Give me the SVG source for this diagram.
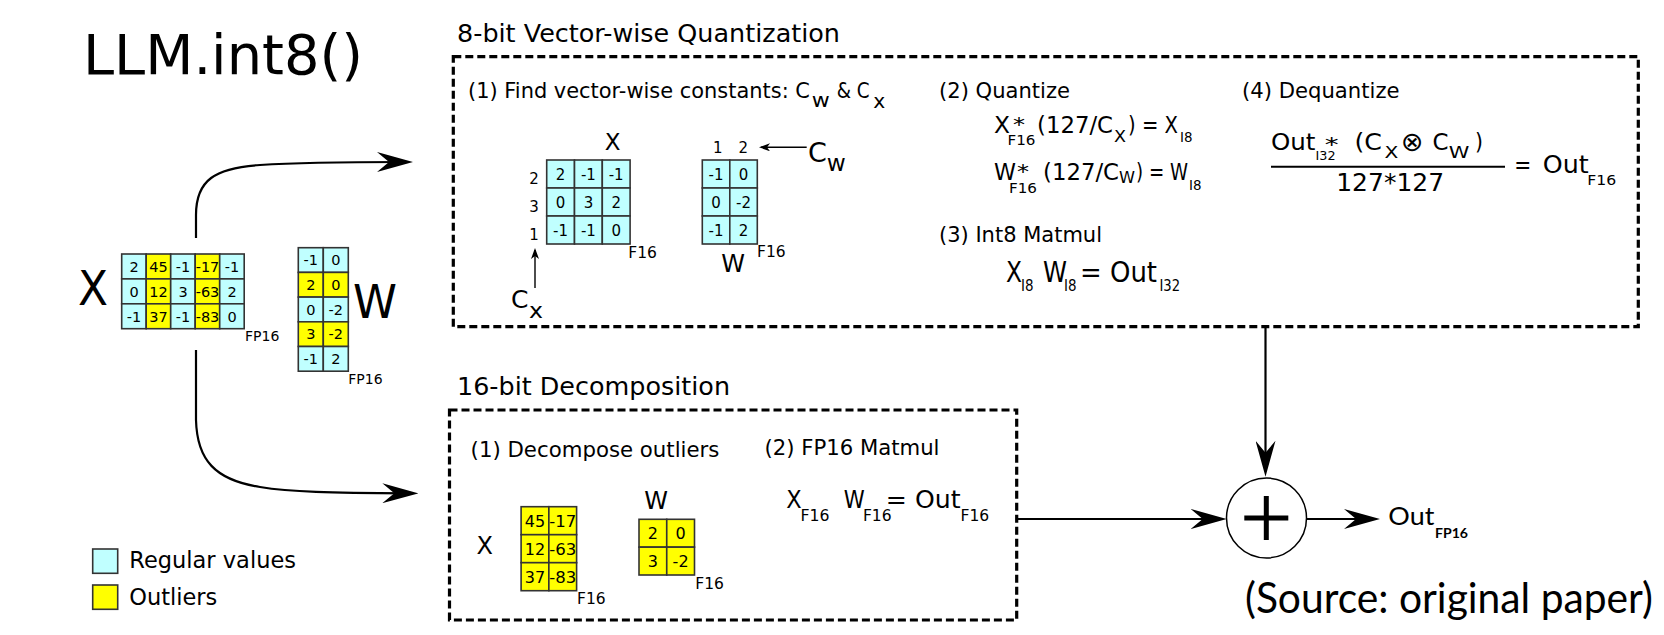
<svg xmlns="http://www.w3.org/2000/svg" width="1664" height="635" viewBox="0 0 1664 635">
<style>
text{font-family:"DejaVu Sans","Liberation Sans",sans-serif;fill:#000}
.c{fill:#c0ffff;stroke:#333;stroke-width:1.6}
.y{fill:#ffff00;stroke:#333;stroke-width:1.6}
.ct{font-size:14.5px;text-anchor:middle}
.st{font-size:15px;text-anchor:middle}
.bt{font-size:16px;text-anchor:middle}
.lab{font-size:14px}
.box{fill:none;stroke:#000;stroke-width:3.2;stroke-dasharray:8 4}
.ln{fill:none;stroke:#000;stroke-width:2.2}
.thin{fill:none;stroke:#000;stroke-width:1.4}
.cal{font-family:Lato,"Open Sans",sans-serif}
</style>
<defs>
<marker id="ah" viewBox="0 0 36 20" refX="26" refY="10" markerWidth="36" markerHeight="20" markerUnits="userSpaceOnUse" orient="auto"><path d="M36,10 L0,0 L12,10 L0,20 Z" fill="#000"/></marker>
<marker id="as" viewBox="0 0 11 8" refX="9" refY="4" markerWidth="11" markerHeight="8" markerUnits="userSpaceOnUse" orient="auto"><path d="M11,4 L0,0 L3,4 L0,8 Z" fill="#000"/></marker>
</defs>

<g id="title"><text x="83" y="74" font-size="56" textLength="280" lengthAdjust="spacingAndGlyphs">LLM.int8()</text></g>

<g id="input-x">
<text x="78" y="305" font-size="48" textLength="30" lengthAdjust="spacingAndGlyphs">X</text>
<rect class="c" x="121.7" y="254" width="24.5" height="24.9"/><rect class="y" x="146.2" y="254" width="24.5" height="24.9"/><rect class="c" x="170.7" y="254" width="24.5" height="24.9"/><rect class="y" x="195.2" y="254" width="24.5" height="24.9"/><rect class="c" x="219.7" y="254" width="24.5" height="24.9"/>
<rect class="c" x="121.7" y="278.9" width="24.5" height="24.9"/><rect class="y" x="146.2" y="278.9" width="24.5" height="24.9"/><rect class="c" x="170.7" y="278.9" width="24.5" height="24.9"/><rect class="y" x="195.2" y="278.9" width="24.5" height="24.9"/><rect class="c" x="219.7" y="278.9" width="24.5" height="24.9"/>
<rect class="c" x="121.7" y="303.8" width="24.5" height="24.9"/><rect class="y" x="146.2" y="303.8" width="24.5" height="24.9"/><rect class="c" x="170.7" y="303.8" width="24.5" height="24.9"/><rect class="y" x="195.2" y="303.8" width="24.5" height="24.9"/><rect class="c" x="219.7" y="303.8" width="24.5" height="24.9"/>
<text class="ct" x="134" y="271.8">2</text><text class="ct" x="158.5" y="271.8">45</text><text class="ct" x="183" y="271.8">-1</text><text class="ct" x="207.5" y="271.8">-17</text><text class="ct" x="232" y="271.8">-1</text>
<text class="ct" x="134" y="296.7">0</text><text class="ct" x="158.5" y="296.7">12</text><text class="ct" x="183" y="296.7">3</text><text class="ct" x="207.5" y="296.7">-63</text><text class="ct" x="232" y="296.7">2</text>
<text class="ct" x="134" y="321.6">-1</text><text class="ct" x="158.5" y="321.6">37</text><text class="ct" x="183" y="321.6">-1</text><text class="ct" x="207.5" y="321.6">-83</text><text class="ct" x="232" y="321.6">0</text>
<text class="lab" x="245" y="340.7">FP16</text>
</g>

<g id="input-w">
<rect class="c" x="298.3" y="247.7" width="25" height="24.7"/><rect class="c" x="323.3" y="247.7" width="25" height="24.7"/>
<rect class="y" x="298.3" y="272.4" width="25" height="24.7"/><rect class="y" x="323.3" y="272.4" width="25" height="24.7"/>
<rect class="c" x="298.3" y="297.1" width="25" height="24.7"/><rect class="c" x="323.3" y="297.1" width="25" height="24.7"/>
<rect class="y" x="298.3" y="321.8" width="25" height="24.7"/><rect class="y" x="323.3" y="321.8" width="25" height="24.7"/>
<rect class="c" x="298.3" y="346.5" width="25" height="24.7"/><rect class="c" x="323.3" y="346.5" width="25" height="24.7"/>
<text class="ct" x="310.8" y="265.2">-1</text><text class="ct" x="335.8" y="265.2">0</text>
<text class="ct" x="310.8" y="289.9">2</text><text class="ct" x="335.8" y="289.9">0</text>
<text class="ct" x="310.8" y="314.6">0</text><text class="ct" x="335.8" y="314.6">-2</text>
<text class="ct" x="310.8" y="339.3">3</text><text class="ct" x="335.8" y="339.3">-2</text>
<text class="ct" x="310.8" y="364">-1</text><text class="ct" x="335.8" y="364">2</text>
<text x="353" y="318" font-size="47" textLength="44" lengthAdjust="spacingAndGlyphs">W</text>
<text class="lab" x="348.3" y="384">FP16</text>
</g>

<g id="quantization">
<text x="457" y="41.7" font-size="24" textLength="383" lengthAdjust="spacingAndGlyphs">8-bit Vector-wise Quantization</text>
<rect class="box" x="453.3" y="56.7" width="1185" height="270"/>
<text x="468" y="98.3" font-size="20.7" textLength="342" lengthAdjust="spacingAndGlyphs">(1) Find vector-wise constants: C</text>
<text x="811.7" y="106.7" font-size="19" textLength="18" lengthAdjust="spacingAndGlyphs">w</text>
<text x="836.7" y="98.3" font-size="20.7" textLength="33" lengthAdjust="spacingAndGlyphs">&amp; C</text>
<text x="873.3" y="108" font-size="19" textLength="12" lengthAdjust="spacingAndGlyphs">x</text>
<text x="612.7" y="150" font-size="23" text-anchor="middle">X</text>
<text class="st" x="534" y="183.5">2</text><text class="st" x="534" y="211.5">3</text><text class="st" x="534" y="239.5">1</text>
<rect class="c" x="546.7" y="160" width="27.8" height="28"/><rect class="c" x="574.5" y="160" width="27.8" height="28"/><rect class="c" x="602.3" y="160" width="27.8" height="28"/>
<rect class="c" x="546.7" y="188" width="27.8" height="28"/><rect class="c" x="574.5" y="188" width="27.8" height="28"/><rect class="c" x="602.3" y="188" width="27.8" height="28"/>
<rect class="c" x="546.7" y="216" width="27.8" height="28"/><rect class="c" x="574.5" y="216" width="27.8" height="28"/><rect class="c" x="602.3" y="216" width="27.8" height="28"/>
<text class="st" x="560.6" y="179.5">2</text><text class="st" x="588.4" y="179.5">-1</text><text class="st" x="616.2" y="179.5">-1</text>
<text class="st" x="560.6" y="207.5">0</text><text class="st" x="588.4" y="207.5">3</text><text class="st" x="616.2" y="207.5">2</text>
<text class="st" x="560.6" y="235.5">-1</text><text class="st" x="588.4" y="235.5">-1</text><text class="st" x="616.2" y="235.5">0</text>
<text x="628.3" y="257.7" font-size="15.5">F16</text>
<text x="511" y="308" font-size="25">C</text>
<text x="529" y="318" font-size="22" textLength="14" lengthAdjust="spacingAndGlyphs">x</text>
<text class="st" x="717.7" y="153.3">1</text><text class="st" x="743.3" y="153.3">2</text>
<rect class="c" x="702.3" y="160" width="27.5" height="28"/><rect class="c" x="729.8" y="160" width="27.5" height="28"/>
<rect class="c" x="702.3" y="188" width="27.5" height="28"/><rect class="c" x="729.8" y="188" width="27.5" height="28"/>
<rect class="c" x="702.3" y="216" width="27.5" height="28"/><rect class="c" x="729.8" y="216" width="27.5" height="28"/>
<text class="st" x="716" y="179.5">-1</text><text class="st" x="743.5" y="179.5">0</text>
<text class="st" x="716" y="207.5">0</text><text class="st" x="743.5" y="207.5">-2</text>
<text class="st" x="716" y="235.5">-1</text><text class="st" x="743.5" y="235.5">2</text>
<text x="733" y="271.7" font-size="24" text-anchor="middle">W</text>
<text x="757" y="257" font-size="15.5">F16</text>
<text x="808" y="161.7" font-size="27">C</text>
<text x="826.7" y="170.7" font-size="23" textLength="19" lengthAdjust="spacingAndGlyphs">w</text>

<text x="939" y="98.3" font-size="21" textLength="131" lengthAdjust="spacingAndGlyphs">(2) Quantize</text>
<text x="994" y="133.3" font-size="23" textLength="16" lengthAdjust="spacingAndGlyphs">X</text>
<text x="1013" y="131" font-size="20" textLength="12" lengthAdjust="spacingAndGlyphs">*</text>
<text x="1007.5" y="145" font-size="14" textLength="28" lengthAdjust="spacingAndGlyphs">F16</text>
<text x="1037" y="133.3" font-size="23" textLength="76" lengthAdjust="spacingAndGlyphs">(127/C</text>
<text x="1114" y="141.7" font-size="16" textLength="12" lengthAdjust="spacingAndGlyphs">X</text>
<text x="1128" y="133.3" font-size="23" textLength="50" lengthAdjust="spacingAndGlyphs">) = X</text>
<text x="1180" y="141.7" font-size="14" textLength="12.5" lengthAdjust="spacingAndGlyphs">I8</text>
<text x="994" y="180" font-size="23" textLength="22" lengthAdjust="spacingAndGlyphs">W</text>
<text x="1017" y="178" font-size="20" textLength="12" lengthAdjust="spacingAndGlyphs">*</text>
<text x="1009" y="192.7" font-size="14" textLength="28" lengthAdjust="spacingAndGlyphs">F16</text>
<text x="1043" y="180" font-size="23" textLength="76" lengthAdjust="spacingAndGlyphs">(127/C</text>
<text x="1119" y="183" font-size="16" textLength="16" lengthAdjust="spacingAndGlyphs">W</text>
<text x="1136" y="180" font-size="23" textLength="52" lengthAdjust="spacingAndGlyphs">) = W</text>
<text x="1189" y="190" font-size="14" textLength="12.5" lengthAdjust="spacingAndGlyphs">I8</text>

<text x="939" y="241.7" font-size="21" textLength="163" lengthAdjust="spacingAndGlyphs">(3) Int8 Matmul</text>
<text x="1006" y="281.7" font-size="29" textLength="16" lengthAdjust="spacingAndGlyphs">X</text>
<text x="1021" y="290.7" font-size="16" textLength="12.5" lengthAdjust="spacingAndGlyphs">I8</text>
<text x="1043" y="281.7" font-size="29" textLength="24" lengthAdjust="spacingAndGlyphs">W</text>
<text x="1064" y="290.7" font-size="16" textLength="12.5" lengthAdjust="spacingAndGlyphs">I8</text>
<text x="1080" y="281.7" font-size="29" textLength="77" lengthAdjust="spacingAndGlyphs">= Out</text>
<text x="1159.4" y="290.7" font-size="16" textLength="20.6" lengthAdjust="spacingAndGlyphs">I32</text>

<text x="1242" y="98.3" font-size="21" textLength="157.5" lengthAdjust="spacingAndGlyphs">(4) Dequantize</text>
<text x="1271" y="150" font-size="23" textLength="44.5" lengthAdjust="spacingAndGlyphs">Out</text>
<text x="1324.7" y="151" font-size="20" textLength="13.8" lengthAdjust="spacingAndGlyphs">*</text>
<text x="1315.5" y="160" font-size="12" textLength="20" lengthAdjust="spacingAndGlyphs">I32</text>
<text x="1354.5" y="150" font-size="23" textLength="27.5" lengthAdjust="spacingAndGlyphs">(C</text>
<text x="1384.4" y="158.3" font-size="16" textLength="13.8" lengthAdjust="spacingAndGlyphs">X</text>
<text x="1401" y="151" font-size="27" font-family="'DejaVu Sans Mono','DejaVu Sans',sans-serif" font-weight="normal">⊗</text>
<text x="1432.6" y="150" font-size="23" textLength="16" lengthAdjust="spacingAndGlyphs">C</text>
<text x="1448.7" y="158.3" font-size="16" textLength="20.6" lengthAdjust="spacingAndGlyphs">W</text>
<text x="1475" y="150" font-size="23" textLength="8" lengthAdjust="spacingAndGlyphs">)</text>
<line x1="1271" y1="166.7" x2="1505" y2="166.7" stroke="#000" stroke-width="2"/>
<text x="1336.2" y="190.7" font-size="24" textLength="108" lengthAdjust="spacingAndGlyphs">127*127</text>
<text x="1514.3" y="173.3" font-size="25" textLength="17" lengthAdjust="spacingAndGlyphs">=</text>
<text x="1542.8" y="173.3" font-size="25" textLength="45.9" lengthAdjust="spacingAndGlyphs">Out</text>
<text x="1587.3" y="185" font-size="13.5" textLength="29" lengthAdjust="spacingAndGlyphs">F16</text>
</g>

<g id="decomposition">
<text x="457" y="395" font-size="25" textLength="273" lengthAdjust="spacingAndGlyphs">16-bit Decomposition</text>
<rect class="box" x="449.5" y="410" width="567.2" height="210"/>
<text x="470.6" y="456.7" font-size="21" textLength="248.8" lengthAdjust="spacingAndGlyphs">(1) Decompose outliers</text>
<text x="764.5" y="455" font-size="21" textLength="175" lengthAdjust="spacingAndGlyphs">(2) FP16 Matmul</text>
<text x="476.4" y="554" font-size="24">X</text>
<rect class="y" x="521.1" y="506.7" width="27.75" height="28"/><rect class="y" x="548.85" y="506.7" width="27.75" height="28"/>
<rect class="y" x="521.1" y="534.7" width="27.75" height="28"/><rect class="y" x="548.85" y="534.7" width="27.75" height="28"/>
<rect class="y" x="521.1" y="562.7" width="27.75" height="28"/><rect class="y" x="548.85" y="562.7" width="27.75" height="28"/>
<text class="bt" x="535" y="526.5">45</text><text class="bt" x="562.7" y="526.5" textLength="27" lengthAdjust="spacingAndGlyphs">-17</text>
<text class="bt" x="535" y="554.5">12</text><text class="bt" x="562.7" y="554.5" textLength="27" lengthAdjust="spacingAndGlyphs">-63</text>
<text class="bt" x="535" y="582.5">37</text><text class="bt" x="562.7" y="582.5" textLength="27" lengthAdjust="spacingAndGlyphs">-83</text>
<text x="577" y="604" font-size="15.5">F16</text>
<text x="656.2" y="509.3" font-size="24" text-anchor="middle">W</text>
<rect class="y" x="639" y="519.3" width="27.75" height="27.85"/><rect class="y" x="666.75" y="519.3" width="27.75" height="27.85"/>
<rect class="y" x="639" y="547.15" width="27.75" height="27.85"/><rect class="y" x="666.75" y="547.15" width="27.75" height="27.85"/>
<text class="bt" x="652.9" y="539">2</text><text class="bt" x="680.6" y="539">0</text>
<text class="bt" x="652.9" y="566.8">3</text><text class="bt" x="680.6" y="566.8">-2</text>
<text x="695.3" y="589.3" font-size="15.5">F16</text>
<text x="786.3" y="508.3" font-size="25" textLength="15.4" lengthAdjust="spacingAndGlyphs">X</text>
<text x="800.5" y="520.7" font-size="16" textLength="29" lengthAdjust="spacingAndGlyphs">F16</text>
<text x="843.7" y="508.3" font-size="25" textLength="21" lengthAdjust="spacingAndGlyphs">W</text>
<text x="862.9" y="520.7" font-size="16" textLength="28.7" lengthAdjust="spacingAndGlyphs">F16</text>
<text x="885.8" y="508.3" font-size="25" textLength="74.7" lengthAdjust="spacingAndGlyphs">= Out</text>
<text x="960.5" y="520.7" font-size="16" textLength="28.7" lengthAdjust="spacingAndGlyphs">F16</text>
</g>

<g id="sum">
<circle cx="1266.5" cy="518" r="40" fill="#fff" stroke="#000" stroke-width="1.5"/>
<line x1="1244.3" y1="518" x2="1288.3" y2="518" stroke="#000" stroke-width="5"/>
<line x1="1266.3" y1="496" x2="1266.3" y2="540" stroke="#000" stroke-width="5"/>
</g>

<g id="output">
<text class="cal" x="1388.3" y="525" font-size="25" textLength="46" lengthAdjust="spacingAndGlyphs">Out</text>
<text class="cal" x="1435" y="538.3" font-size="13" font-weight="bold" textLength="33" lengthAdjust="spacingAndGlyphs">FP16</text>
</g>

<g id="legend">
<rect class="c" x="92.7" y="549" width="25" height="24.3"/>
<rect class="y" x="92.7" y="585" width="25" height="24.3"/>
<text x="129.3" y="567.7" font-size="22.5" textLength="166.7" lengthAdjust="spacingAndGlyphs">Regular values</text>
<text x="129.3" y="605" font-size="22.5" textLength="88" lengthAdjust="spacingAndGlyphs">Outliers</text>
</g>

<g id="source"><text class="cal" x="1245" y="613.3" font-size="42" textLength="408" lengthAdjust="spacingAndGlyphs">(Source: original paper)</text></g>

<g id="connectors">
<path class="ln" d="M196,238 L196,215 C196,180 215,168 260,165 C290,163 330,162 403,162" marker-end="url(#ah)"/>
<path class="ln" d="M196,350 L196,420 C197,460 215,480 260,487 C290,492 330,493 408.3,493.3" marker-end="url(#ah)"/>
<path class="ln" d="M1016.7,519 L1216.7,519" marker-end="url(#ah)"/>
<path class="ln" d="M1265.5,327 L1265.5,466.7" marker-end="url(#ah)"/>
<path class="ln" d="M1306.5,519 L1370,519" marker-end="url(#ah)"/>
<path class="thin" d="M535,288 L535,250" marker-end="url(#as)"/>
<path class="thin" d="M806.7,147.3 L761,147.3" marker-end="url(#as)"/>
</g>
</svg>
